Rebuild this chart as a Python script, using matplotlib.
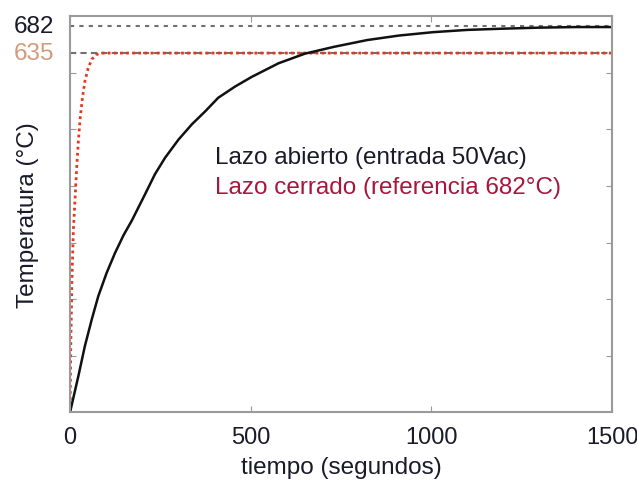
import matplotlib
matplotlib.use('Agg')
import matplotlib.pyplot as plt

# open loop response
t_open = [0, 23, 41, 60, 78, 101, 124, 148, 171, 208, 235, 263, 300, 337, 374, 410, 457,
          503, 577, 650, 730, 822, 910, 1005, 1100, 1190, 1300, 1400, 1500]
T_open = [0, 64, 117, 164, 205, 246, 281, 313, 339, 386, 421, 450, 482, 509, 532, 556, 576,
          593, 617, 634, 646, 658, 666, 672, 676, 678, 680, 681, 681]

# closed loop response
t_closed = [0, 2, 5, 9, 14, 19, 23, 28, 34, 41, 50, 60, 72, 85, 100, 1500]
T_closed = [0, 120, 230, 320, 380, 440, 480, 520, 555, 585, 608, 624, 632, 635, 635, 635]

ref_open = 682
ref_closed = 635
xticks = [0, 500, 1000, 1500]
yticks = [100, 200, 300, 400, 500, 600]

plt.rcParams['font.family'] = ['Liberation Sans', 'DejaVu Sans']
fs = 17.5
dark = '#1a1a2a'

fig = plt.figure(figsize=(6.37, 4.81), dpi=100)
ax = fig.add_axes([0.110, 0.141, 0.851, 0.823])

ax.plot([0, 1500], [ref_open, ref_open], color='#707070', lw=1.5, ls=(0, (2, 2.5)))
ax.plot([0, 1500], [ref_closed, ref_closed], color='#707070', lw=1.5, ls=(0, (3, 2)))
ax.plot(t_closed, T_closed, color='#e8361c', lw=2, ls=(0, (1, 1.2)))
ax.plot(t_open, T_open, color='#111111', lw=1.8)

ax.set_xlim(0, 1500)
ax.set_ylim(0, 700)
ax.set_xticks(xticks)
ax.set_yticks(yticks)
ax.set_yticklabels([])
ax.tick_params(direction='in', length=4, color='#999999', top=True, right=True,
               labelsize=17, labelcolor=dark, pad=10)
for s in ax.spines.values():
    s.set_color('#9a9a9a')
    s.set_linewidth(1.5)

ax.text(-0.03, ref_open, '682', transform=ax.get_yaxis_transform(), ha='right', va='center',
        fontsize=fs, color=dark)
ax.text(-0.03, ref_closed, '635', transform=ax.get_yaxis_transform(), ha='right', va='center',
        fontsize=fs, color='#d49a7a')

ax.text(401, 452, 'Lazo abierto (entrada 50Vac)', fontsize=fs, color=dark, va='center')
ax.text(401, 399, 'Lazo cerrado (referencia 682°C)', fontsize=fs, color='#a8163c', va='center')

ax.set_xlabel('tiempo (segundos)', fontsize=fs, color=dark, labelpad=6)
fig.text(28 / 637, 0.553, 'Temperatura (°C)', rotation=90, ha='center', va='center',
         fontsize=fs, color=dark)

fig.savefig('out.png', dpi=100)
